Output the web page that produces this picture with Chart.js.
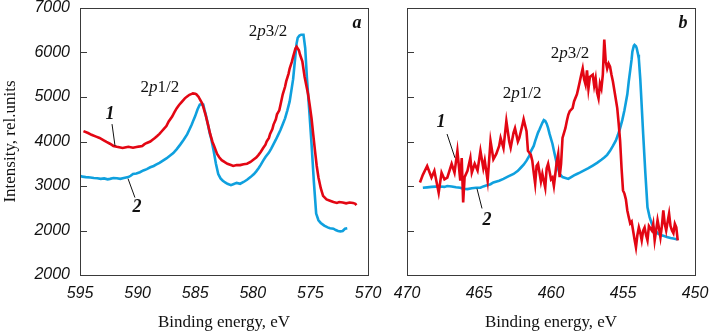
<!DOCTYPE html>
<html><head><meta charset="utf-8">
<script src="https://cdn.jsdelivr.net/npm/chart.js@4.4.1/dist/chart.umd.min.js"></script>
<style>
html,body{margin:0;padding:0;background:#fff;width:710px;height:335px;overflow:hidden}
canvas{position:absolute;top:0}
#ca{left:0}
#cb{left:388px}
</style></head>
<body>
<canvas id="ca" width="388" height="335"></canvas>
<canvas id="cb" width="322" height="335"></canvas>
<script>
// ---------- data ----------
const xTicksA = [595, 590, 585, 580, 575, 570];
const xTicksB = [470, 465, 460, 455, 450];
const yTickLabels = ['2000', '2000', '3000', '4000', '5000', '6000', '7000']; // as printed (bottom label repeated)
const yTickMarks = [2000, 3000, 4000, 5000, 6000];

// panel a: curve 1 (red), curve 2 (blue)  [binding energy, intensity]
const curve1A = [[594.7,4234],[594.3,4190],[594.0,4150],[593.6,4110],[593.3,4080],[592.9,4020],[592.7,3990],[592.4,3950],[592.1,3900],[591.8,3880],[591.6,3870],[591.3,3855],[591.0,3870],[590.8,3880],[590.4,3860],[590.1,3877],[589.8,3890],[589.6,3900],[589.4,3940],[589.2,3967],[588.9,4000],[588.7,4040],[588.5,4080],[588.3,4123],[588.1,4170],[587.9,4230],[587.7,4290],[587.5,4346],[587.3,4450],[587.0,4560],[586.8,4660],[586.6,4750],[586.4,4820],[586.2,4880],[585.9,4970],[585.7,5010],[585.5,5050],[585.3,5070],[585.2,5080],[585.0,5075],[584.9,5060],[584.7,5000],[584.6,4950],[584.4,4860],[584.3,4780],[584.1,4600],[583.9,4390],[583.7,4170],[583.5,3990],[583.4,3930],[583.1,3720],[582.9,3640],[582.7,3580],[582.4,3530],[582.2,3500],[581.9,3470],[581.7,3450],[581.4,3470],[581.1,3470],[580.8,3490],[580.5,3500],[580.2,3540],[579.9,3600],[579.7,3640],[579.5,3700],[579.3,3770],[579.1,3855],[578.9,3930],[578.8,4000],[578.6,4080],[578.5,4170],[578.3,4280],[578.2,4380],[578.0,4500],[577.9,4610],[577.7,4700],[577.6,4820],[577.4,5060],[577.2,5230],[577.1,5350],[576.9,5520],[576.8,5640],[576.6,5800],[576.5,5900],[576.3,6090],[576.2,6130],[576.0,6050],[575.9,5950],[575.7,5800],[575.5,5450],[575.2,5060],[575.05,4800],[574.9,4520],[574.75,4150],[574.6,3790],[574.45,3450],[574.3,3190],[574.1,2950],[573.9,2780],[573.6,2700],[573.3,2670],[573.0,2640],[572.7,2620],[572.5,2640],[572.2,2630],[571.9,2610],[571.6,2630],[571.3,2620],[571.1,2600],[571.0,2570]];
const curve2A = [[595.0,3230],[594.8,3210],[594.5,3200],[594.1,3190],[593.8,3180],[593.5,3175],[593.2,3160],[592.9,3170],[592.6,3150],[592.4,3160],[592.1,3180],[591.8,3175],[591.5,3160],[591.2,3180],[591.0,3190],[590.8,3200],[590.6,3230],[590.4,3270],[590.1,3280],[589.8,3310],[589.5,3350],[589.2,3380],[588.9,3420],[588.6,3450],[588.4,3480],[588.1,3520],[587.8,3570],[587.5,3620],[587.2,3680],[586.9,3740],[586.6,3830],[586.3,3930],[586.0,4040],[585.7,4160],[585.5,4270],[585.3,4380],[585.15,4480],[585.0,4570],[584.8,4720],[584.6,4830],[584.45,4840],[584.3,4830],[584.2,4720],[584.1,4620],[583.9,4390],[583.75,4200],[583.6,4050],[583.4,3790],[583.2,3500],[583.0,3270],[582.8,3170],[582.6,3120],[582.4,3080],[582.2,3050],[581.9,3020],[581.7,3040],[581.4,3070],[581.1,3050],[580.8,3090],[580.5,3140],[580.2,3200],[579.9,3270],[579.7,3330],[579.5,3400],[579.3,3480],[579.1,3570],[578.9,3650],[578.6,3750],[578.4,3840],[578.2,3940],[578.0,4040],[577.8,4150],[577.6,4260],[577.4,4390],[577.2,4520],[577.0,4700],[576.8,4900],[576.65,5150],[576.5,5400],[576.35,5800],[576.2,6200],[576.1,6330],[575.95,6380],[575.8,6400],[575.6,6400],[575.45,6100],[575.3,5420],[575.1,4700],[574.9,3940],[574.7,3100],[574.5,2380],[574.3,2230],[574.1,2170],[573.8,2110],[573.5,2070],[573.3,2050],[573.0,2040],[572.8,2010],[572.6,1990],[572.4,1980],[572.2,1990],[572.0,2040],[571.8,2050]];

// panel b: curve 1 (red), curve 2 (blue)
const curve1B = [[469.1,3080],[468.9,3250],[468.6,3450],[468.3,3190],[468.1,3340],[467.8,2850],[467.6,3300],[467.4,3150],[467.2,3190],[466.9,3500],[466.7,3300],[466.5,3790],[466.3,3120],[466.2,3630],[466.1,2630],[466.0,3200],[465.8,3340],[465.6,3630],[465.5,3300],[465.3,3500],[465.1,3350],[464.9,3790],[464.7,3400],[464.6,3570],[464.4,3120],[464.2,4010],[464.0,3600],[463.8,3720],[463.6,3900],[463.5,4080],[463.3,3850],[463.1,4460],[462.9,4000],[462.8,3860],[462.6,4200],[462.5,4300],[462.3,4000],[462.2,4080],[462.0,4350],[461.9,4500],[461.7,4230],[461.6,3790],[461.4,3700],[461.3,3570],[461.2,3300],[461.1,3050],[461.0,3450],[460.9,3500],[460.7,3100],[460.6,3270],[460.4,2960],[460.3,3400],[460.2,3500],[460.0,3150],[459.9,3190],[459.8,3000],[459.7,3270],[459.6,3550],[459.5,3720],[459.4,3200],[459.3,3500],[459.2,4080],[459.0,4300],[458.9,4460],[458.8,4600],[458.7,4680],[458.5,4750],[458.4,4900],[458.2,5060],[458.1,5200],[458.0,5350],[457.9,5500],[457.8,5640],[457.7,5400],[457.6,5280],[457.5,5600],[457.4,5190],[457.3,5450],[457.1,5500],[457.0,5250],[456.9,5420],[456.8,5100],[456.7,4970],[456.6,5300],[456.5,5190],[456.4,5500],[456.3,6290],[456.2,5800],[456.1,5640],[456.0,5750],[455.9,5680],[455.8,5500],[455.7,5350],[455.55,5050],[455.4,4750],[455.3,4400],[455.2,4010],[455.1,3400],[455.0,2900],[454.9,2830],[454.8,2700],[454.7,2450],[454.6,2300],[454.5,2160],[454.4,2200],[454.3,2000],[454.2,1800],[454.1,1620],[454.0,1900],[453.9,2070],[453.8,1950],[453.7,1780],[453.6,2000],[453.5,2070],[453.4,1900],[453.3,1780],[453.2,2100],[453.0,2000],[452.9,2150],[452.8,1780],[452.7,2000],[452.6,2230],[452.5,2050],[452.4,1850],[452.3,2100],[452.2,2450],[452.1,2150],[452.0,2000],[451.9,2200],[451.8,2380],[451.7,2100],[451.6,2000],[451.5,1940],[451.4,2150],[451.3,2070],[451.2,1780]];
const curve2B = [[468.9,2960],[468.6,2970],[468.3,2980],[468.0,2985],[467.7,2990],[467.4,2980],[467.2,3000],[466.9,2990],[466.6,2970],[466.3,2960],[466.1,2940],[465.8,2930],[465.5,2950],[465.2,2960],[464.9,2960],[464.7,2990],[464.5,3010],[464.2,3040],[464.0,3080],[463.6,3120],[463.3,3160],[463.0,3210],[462.6,3270],[462.3,3340],[462.1,3410],[461.9,3480],[461.7,3570],[461.5,3680],[461.4,3780],[461.2,3900],[461.1,4010],[460.9,4200],[460.8,4270],[460.6,4420],[460.5,4480],[460.4,4460],[460.3,4400],[460.2,4300],[460.1,4170],[459.9,3950],[459.8,3800],[459.6,3500],[459.4,3270],[459.2,3200],[459.0,3180],[458.8,3160],[458.6,3200],[458.4,3240],[458.2,3270],[458.0,3300],[457.7,3350],[457.4,3400],[457.1,3460],[456.8,3520],[456.5,3590],[456.3,3640],[456.1,3700],[455.9,3790],[455.7,3900],[455.5,4020],[455.35,4150],[455.2,4300],[455.05,4480],[454.9,4700],[454.8,4880],[454.7,5060],[454.6,5350],[454.5,5600],[454.4,5850],[454.35,6020],[454.25,6150],[454.2,6170],[454.1,6140],[454.05,6100],[453.95,5950],[453.9,5860],[453.8,5400],[453.75,5100],[453.6,4170],[453.45,3300],[453.3,2520],[453.15,2300],[453.0,2150],[452.8,2030],[452.6,1940],[452.4,1900],[452.2,1880],[451.9,1850],[451.7,1830],[451.5,1820],[451.2,1800]];

// annotations (data coordinates)
const notesA = {peak1: [588.06, 5217], peak2: [578.68, 6466], panel: [570.95, 6645], n1: [592.4, 4614], n2: [590.05, 2517],
  lead1: [[592.22, 4391], [591.96, 3900]], lead2: [[590.83, 3164], [590.23, 2740]], letter: 'a'};
const notesB = {peak1: [462.01, 5083], peak2: [458.68, 5975], panel: [450.83, 6645], n1: [467.64, 4436], n2: [464.44, 2227],
  lead1: [[467.22, 4168], [466.67, 3633]], lead2: [[465.14, 2941], [464.79, 2495]], letter: 'b'};

// ---------- styles ----------
const RED = '#e30613';
const BLUE = '#0fa0de';
const AXIS = '#3a3a3a';
const SERIF = '"Liberation Serif", "Times New Roman", serif';
const SANS = '"Liberation Sans", Arial, sans-serif';

function toPts(arr){ return arr.map(p => ({x: p[0], y: p[1]})); }

const decor = {
  id: 'decor',
  afterDraw(chart, args, opts) {
    const {ctx, chartArea: a, scales} = chart;
    const xs = scales.x, ys = scales.y;
    const P = v => [xs.getPixelForValue(v[0]), ys.getPixelForValue(v[1])];
    ctx.save();
    ctx.strokeStyle = AXIS; ctx.lineWidth = 1;
    ctx.strokeRect(Math.round(a.left) + 0.5, Math.round(a.top) + 0.5, Math.round(a.right - a.left), Math.round(a.bottom - a.top));
    ctx.beginPath();
    yTickMarks.forEach(v => {
      const y = Math.round(ys.getPixelForValue(v)) + 0.5;
      ctx.moveTo(a.left, y); ctx.lineTo(a.left + 7, y);
    });
    ctx.stroke();
    const n = opts.notes;
    const peak = (pos, frac) => {
      const [px, py] = P(pos);
      const f1 = '17px ' + SERIF, f2 = 'italic 17px ' + SERIF;
      ctx.font = f1; const w1 = ctx.measureText('2').width, w3 = ctx.measureText(frac).width;
      ctx.font = f2; const w2 = ctx.measureText('p').width;
      let x = px - (w1 + w2 + w3) / 2;
      ctx.fillStyle = '#111'; ctx.textBaseline = 'middle'; ctx.textAlign = 'left';
      ctx.font = f1; ctx.fillText('2', x, py); x += w1;
      ctx.font = f2; ctx.fillText('p', x, py); x += w2;
      ctx.font = f1; ctx.fillText(frac, x, py);
    };
    peak(n.peak1, '1/2');
    peak(n.peak2, '3/2');
    ctx.textAlign = 'center'; ctx.textBaseline = 'middle'; ctx.fillStyle = '#111';
    ctx.font = 'bold italic 18px ' + SERIF;
    let q = P(n.panel); ctx.fillText(n.letter, q[0], q[1]);
    q = P(n.n1); ctx.fillText('1', q[0], q[1]);
    q = P(n.n2); ctx.fillText('2', q[0], q[1]);
    ctx.strokeStyle = '#111'; ctx.lineWidth = 1;
    [n.lead1, n.lead2].forEach(l => {
      const s = P(l[0]), e = P(l[1]);
      ctx.beginPath(); ctx.moveTo(s[0], s[1]); ctx.lineTo(e[0], e[1]); ctx.stroke();
    });
    ctx.restore();
  }
};

function makeChart(id, c1, c2, xmin, xmax, xTicks, yWidth, padRight, showY, notes) {
  return new Chart(document.getElementById(id), {
    type: 'scatter',
    data: { datasets: [
      { data: toPts(c1), showLine: true, borderColor: RED, borderWidth: 2.6, pointRadius: 0, tension: 0, fill: false },
      { data: toPts(c2), showLine: true, borderColor: BLUE, borderWidth: 2.6, pointRadius: 0, tension: 0, fill: false }
    ]},
    options: {
      responsive: false, animation: false, devicePixelRatio: 1,
      layout: { padding: { top: 8, right: padRight, left: 0, bottom: 0 } },
      plugins: { legend: { display: false }, tooltip: { enabled: false }, decor: { notes } },
      scales: {
        x: {
          type: 'linear', reverse: true, min: xmin, max: xmax,
          afterBuildTicks: s => { s.ticks = xTicks.map(v => ({value: v})); },
          afterFit: s => { s.height = 60; s.paddingLeft = 0; s.paddingRight = 0; },
          grid: { display: false, drawTicks: false }, border: { display: false },
          ticks: { padding: 9, font: { family: SANS, size: 16, style: 'italic' }, color: '#111', maxRotation: 0, autoSkip: false },
          title: { display: true, text: 'Binding energy, eV', font: { family: SERIF, size: 17 }, color: '#111', padding: { top: 0, bottom: 2 } }
        },
        y: {
          type: 'linear', min: 1000, max: 7000,
          afterBuildTicks: s => { s.ticks = yTickLabels.map((t, i) => ({value: 1000 + i * 1000})); },
          afterFit: s => { s.width = yWidth; s.paddingTop = 0; s.paddingBottom = 0; },
          grid: { display: false, drawTicks: false }, border: { display: false },
          ticks: { display: showY, padding: 10, font: { family: SANS, size: 16, style: 'italic' }, color: '#111',
                   callback: (v, i) => yTickLabels[i] },
          title: { display: showY, text: 'Intensity, rel.units', font: { family: SERIF, size: 17 }, color: '#111', padding: { top: 0, bottom: 0 } }
        }
      }
    },
    plugins: [decor]
  });
}

makeChart('ca', curve1A, curve2A, 570, 595, xTicksA, 80, 20, true, notesA);
makeChart('cb', curve1B, curve2B, 450, 470, xTicksB, 19, 15, false, notesB);
</script>
</body></html>
